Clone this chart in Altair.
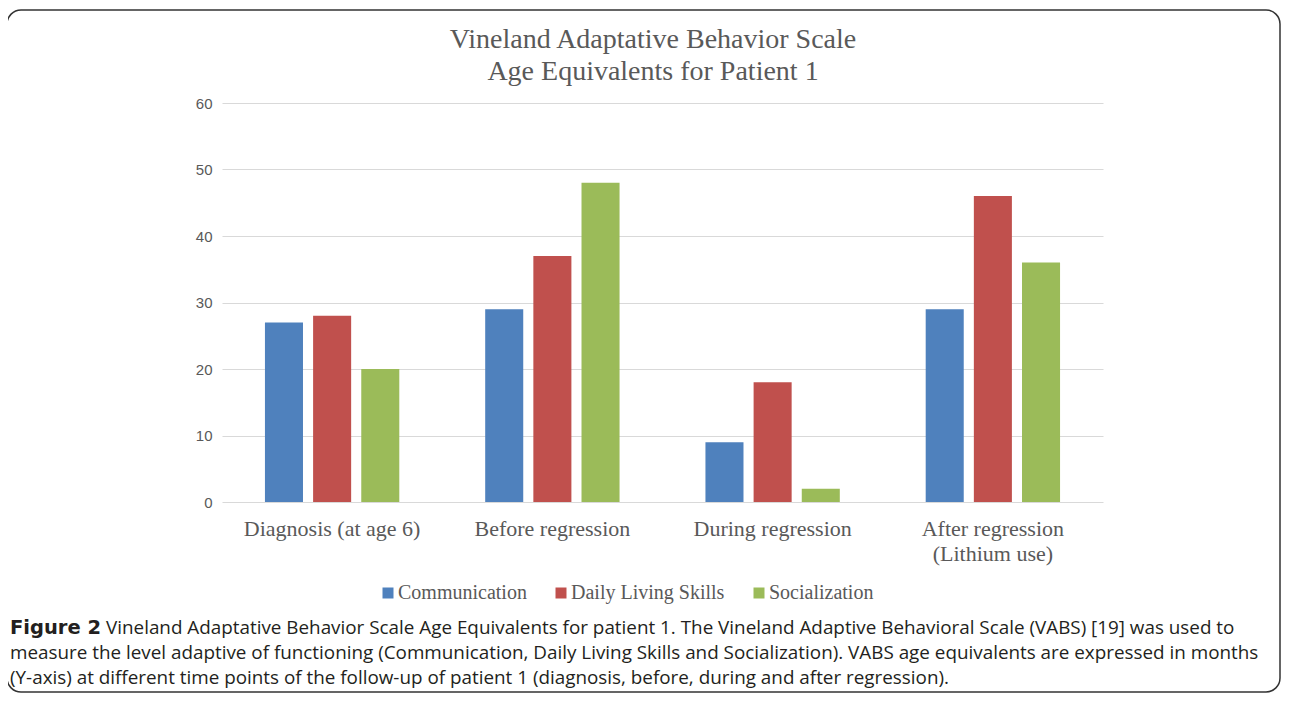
import altair as alt
import pandas as pd

groups = ["Diagnosis (at age 6)", "Before regression", "During regression", "After regression\n(Lithium use)"]
series = ["Communication", "Daily Living Skills", "Socialization"]
communication = [27, 29, 9, 29]
daily_living = [28, 37, 18, 46]
socialization = [20, 48, 2, 36]
colors = ["#4F81BD", "#C0504D", "#9BBB59"]
y_ticks = [0, 10, 20, 30, 40, 50, 60]

title_lines = ["Vineland Adaptative Behavior Scale", "Age Equivalents for Patient 1"]
caption_bold = "Figure 2"
caption_lines = [
    "Vineland Adaptative Behavior Scale Age Equivalents for patient 1. The Vineland Adaptive Behavioral Scale (VABS) [19] was used to",
    "measure the level adaptive of functioning (Communication, Daily Living Skills and Socialization). VABS age equivalents are expressed in months",
    "(Y-axis) at different time points of the follow-up of patient 1 (diagnosis, before, during and after regression).",
]

rows = []
for name, vals in zip(series, [communication, daily_living, socialization]):
    for g, v in zip(groups, vals):
        rows.append({"group": g, "series": name, "value": v})
df = pd.DataFrame(rows)

W, H = 881, 399

bars = alt.Chart(df).mark_bar().encode(
    x=alt.X("group:N", sort=groups, title=None,
            scale=alt.Scale(paddingInner=0.39, paddingOuter=0.195),
            axis=alt.Axis(labelAngle=0, labelFont="Liberation Serif", labelFontSize=22,
                          labelColor="#595959", labelPadding=16, ticks=False, domain=False,
                          labelLineHeight=25, labelExpr="split(datum.value, '\\n')")),
    xOffset=alt.XOffset("series:N", sort=series,
                        scale=alt.Scale(paddingInner=0.21, paddingOuter=0)),
    y=alt.Y("value:Q", title=None, scale=alt.Scale(domain=[0, 60]),
            axis=alt.Axis(values=y_ticks, labelFont="Liberation Sans", labelFontSize=15,
                          labelColor="#595959", labelPadding=10, ticks=False, domain=False,
                          gridColor="#d9d9d9", gridWidth=1)),
    color=alt.Color("series:N", sort=series,
                    scale=alt.Scale(domain=series, range=colors),
                    legend=alt.Legend(title=None, orient="none", direction="horizontal",
                                      legendX=156, legendY=480, symbolType="square",
                                      symbolSize=121, symbolStrokeWidth=0,
                                      labelFont="Liberation Serif", labelFontSize=20,
                                      labelColor="#595959", labelOffset=0,
                                      columnPadding=24)),
)

one = pd.DataFrame({"k": [0]})

title1 = alt.Chart(one).mark_text(text=title_lines[0], font="Liberation Serif", fontSize=28,
                                  color="#595959", align="center", baseline="middle").encode(
    x=alt.value(431), y=alt.value(-63))
title2 = alt.Chart(one).mark_text(text=title_lines[1], font="Liberation Serif", fontSize=28,
                                  color="#595959", align="center", baseline="middle").encode(
    x=alt.value(431), y=alt.value(-31))

cap_font = "Open Sans"
cap_size = 18.85
cap_color = "#231f20"
cap_b = alt.Chart(one).mark_text(text=caption_bold, font="DejaVu Sans", fontSize=19.5, fontWeight="bold",
                                 color=cap_color, align="left", baseline="middle").encode(
    x=alt.value(-212), y=alt.value(525))
cap1 = alt.Chart(one).mark_text(text=caption_lines[0], font=cap_font, fontSize=cap_size,
                                color=cap_color, align="left", baseline="middle").encode(
    x=alt.value(-116), y=alt.value(525))
cap2 = alt.Chart(one).mark_text(text=caption_lines[1], font=cap_font, fontSize=cap_size,
                                color=cap_color, align="left", baseline="middle").encode(
    x=alt.value(-212), y=alt.value(550))
cap3 = alt.Chart(one).mark_text(text=caption_lines[2], font=cap_font, fontSize=cap_size,
                                color=cap_color, align="left", baseline="middle").encode(
    x=alt.value(-212), y=alt.value(575))

border = alt.Chart(one).mark_rect(fill=None, stroke="#333333", strokeWidth=1.5,
                                  cornerRadius=14).encode(
    x=alt.value(-215), x2=alt.value(1058), y=alt.value(-93), y2=alt.value(589))

chart = alt.layer(border, bars, title1, title2, cap_b, cap1, cap2, cap3).properties(
    width=W, height=H,
    padding={"left": 214, "top": 95, "right": 179, "bottom": 192},
    autosize=alt.AutoSizeParams(type="none"),
).configure_view(stroke=None).resolve_scale(color="independent")

chart.save("out.html", embed_options={"renderer": "svg", "actions": False})
